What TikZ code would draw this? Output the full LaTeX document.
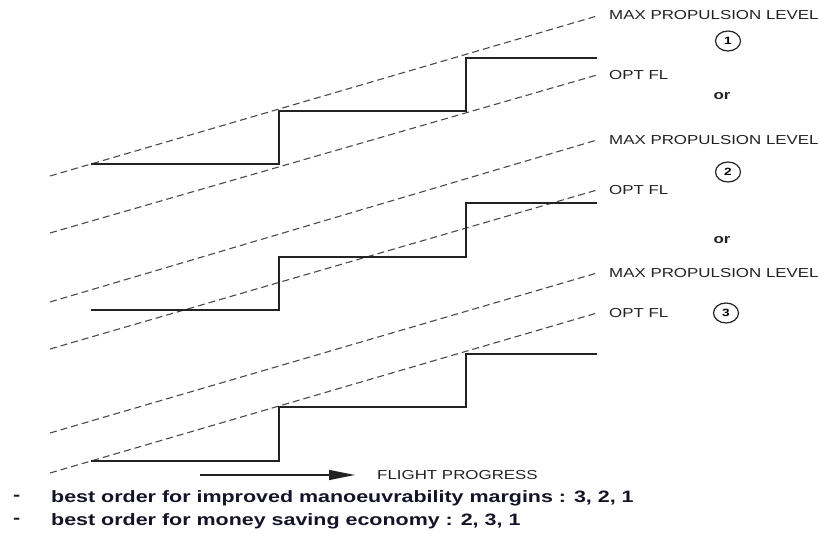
\documentclass[tikz,border=0pt]{standalone}
\usepackage{fontspec}
\newfontfamily\lblfont[FakeStretch=1.3]{Liberation Sans}
\usepackage{tikz}
\usetikzlibrary{arrows.meta,positioning,shapes.geometric}
\definecolor{inkgrey}{HTML}{222222}
\definecolor{dashgrey}{HTML}{4A4A4A}
\definecolor{notenavy}{HTML}{141428}
\tikzset{
  % nivålinjer och steg
  lvl/.style={draw=dashgrey,line width=1.1pt,dash pattern=on 7pt off 4pt},
  fpath/.style={draw=inkgrey,line width=1.9pt,line join=miter},
  % texter
  lbl/.style={anchor=west,inner sep=0pt,text=inkgrey,
              font=\lblfont\fontsize{13}{15}\selectfont},
  ornode/.style={inner sep=0pt,text=inkgrey,
              font=\lblfont\fontsize{13}{15}\selectfont\bfseries},
  num/.style={ellipse,draw=inkgrey,line width=1.2pt,inner sep=0pt,
              minimum width=25pt,minimum height=20pt,
              font=\lblfont\fontsize{10.5}{12}\selectfont\bfseries},
  note/.style={anchor=west,inner sep=0pt,text=notenavy,
              font=\lblfont\fontsize{16.5}{19}\selectfont\bfseries},
  prog/.style={-{Triangle[length=26pt,width=10pt]},draw=inkgrey,line width=1.3pt},
}
\begin{document}
\begin{tikzpicture}[x=1pt,y=-1pt]
  \useasboundingbox (0,0) rectangle (822,534);
  % etiketter till höger
  \node[lbl] (max1) at (609,15) {MAX PROPULSION LEVEL};
  \node[num] (n1) at (728,41) {1};
  \node[lbl] (opt1) at (609,75) {OPT FL};
  \node[ornode] (or1) at (722,96) {or};
  \node[lbl] (max2) at (609,140) {MAX PROPULSION LEVEL};
  \node[num] (n2) at (728,172) {2};
  \node[lbl] (opt2) at (609,190) {OPT FL};
  \node[ornode] (or2) at (722,240) {or};
  \node[lbl] (max3) at (609,273) {MAX PROPULSION LEVEL};
  \node[lbl] (opt3) at (609,313) {OPT FL};
  \node[num] (n3) at (726,313) {3};
  % streckade nivåer
  \coordinate (m1s) at (50,176);  \coordinate (m1e) at (597,16);
  \coordinate (o1s) at (50,233);  \coordinate (o1e) at (597,75);
  \coordinate (m2s) at (50,302);  \coordinate (m2e) at (597,140);
  \coordinate (o2s) at (50,349);  \coordinate (o2e) at (597,190);
  \coordinate (m3s) at (50,433);  \coordinate (m3e) at (597,273);
  \coordinate (o3s) at (50,473);  \coordinate (o3e) at (597,313);
  \draw[lvl] (m1s) -- (m1e);
  \draw[lvl] (o1s) -- (o1e);
  \draw[lvl] (m2s) -- (m2e);
  \draw[lvl] (o2s) -- (o2e);
  \draw[lvl] (m3s) -- (m3e);
  \draw[lvl] (o3s) -- (o3e);
  % stegvisa flygnivåer
  \draw[fpath] (91,164) -- (279,164) -- (279,111) -- (466,111) -- (466,58) -- (597,58);
  \draw[fpath] (91,310) -- (279,310) -- (279,257) -- (466,257) -- (466,203) -- (597,203);
  \draw[fpath] (91,461) -- (279,461) -- (279,407) -- (466,407) -- (466,354) -- (597,354);
  % flygriktning
  \node[lbl] (fp) at (377,475) {FLIGHT PROGRESS};
  \coordinate (ps) at (200,475);
  \draw[prog] (ps) -- ([xshift=-22pt]fp.west);
  % slutsatser
  \node[note] (d1) at (13,498) {-};
  \node[note] (t1) at (51,498) {best order for improved manoeuvrability margins : 3, 2, 1};
  \node[note] (d2) at (13,521) {-};
  \node[note] (t2) at (51,521) {best order for money saving economy : 2, 3, 1};
\end{tikzpicture}
\end{document}
